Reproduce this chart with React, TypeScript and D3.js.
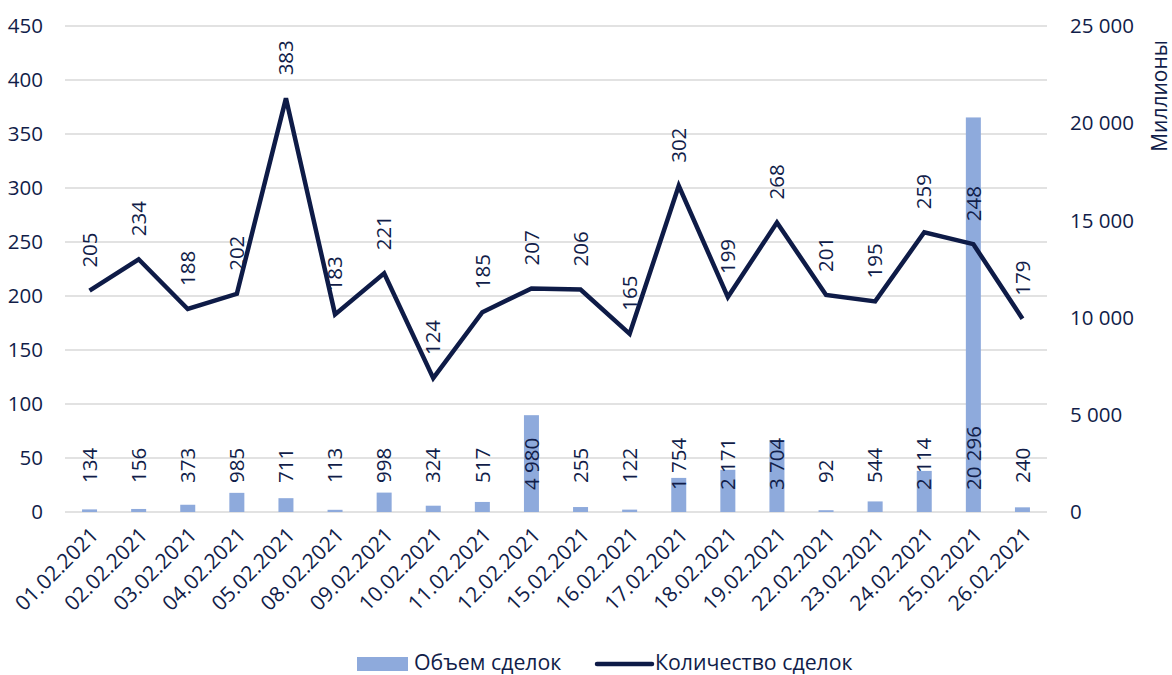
import React from "react";
import * as d3 from "d3";

const dates = [
  "01.02.2021", "02.02.2021", "03.02.2021", "04.02.2021", "05.02.2021",
  "08.02.2021", "09.02.2021", "10.02.2021", "11.02.2021", "12.02.2021",
  "15.02.2021", "16.02.2021", "17.02.2021", "18.02.2021", "19.02.2021",
  "22.02.2021", "23.02.2021", "24.02.2021", "25.02.2021", "26.02.2021",
];
const volume = [134, 156, 373, 985, 711, 113, 998, 324, 517, 4980, 255, 122, 1754, 2171, 3704, 92, 544, 2114, 20296, 240];
const count = [205, 234, 188, 202, 383, 183, 221, 124, 185, 207, 206, 165, 302, 199, 268, 201, 195, 259, 248, 179];
const leftTicks = [0, 50, 100, 150, 200, 250, 300, 350, 400, 450];
const rightTicks = [0, 5000, 10000, 15000, 20000, 25000];
const seriesNames = ["Объем сделок", "Количество сделок"];
const rightAxisTitle = "Миллионы";

const W = 1172;
const H = 675;
const plotLeft = 65;
const plotRight = 1047;
const plotTop = 26;
const plotBottom = 512;
const font = "'Open Sans', sans-serif";
const fs = 20.5;
const textColor = "#111d49";
const lineColor = "#0e1b47";
const barColor = "#8eaadc";
const gridColor = "#d9d9d9";

const fmt = (v: number) => {
  const s = String(v);
  return s.replace(/\B(?=(\d{3})+(?!\d))/g, " ");
};

export default function App() {
  const x = d3.scaleBand<string>().domain(dates).range([plotLeft, plotRight]).paddingInner(0).paddingOuter(0);
  const yL = d3.scaleLinear().domain([0, 450]).range([plotBottom, plotTop]);
  const yR = d3.scaleLinear().domain([0, 25000]).range([plotBottom, plotTop]);
  const cx = (d: string) => (x(d) as number) + x.bandwidth() / 2;
  const barW = 15;
  const line = d3
    .line<number>()
    .x((_, i) => cx(dates[i]))
    .y((v) => yL(v));

  return (
    <svg width={W} height={H} style={{ position: "absolute", left: 0, top: 0, background: "#fff" }} fontFamily={font}>
      {leftTicks.map((t) => (
        <line key={"g" + t} x1={plotLeft} x2={plotRight} y1={yL(t)} y2={yL(t)} stroke={gridColor} strokeWidth={1.5} />
      ))}
      {leftTicks.map((t) => (
        <text key={"l" + t} x={43} y={yL(t)} dy="0.35em" textAnchor="end" fontSize={fs} fill={textColor}>
          {t}
        </text>
      ))}
      {rightTicks.map((t) => (
        <text key={"r" + t} x={1070} y={yR(t)} dy="0.35em" textAnchor="start" fontSize={fs} fill={textColor}>
          {fmt(t)}
        </text>
      ))}
      <text
        transform={`translate(1167,96) rotate(-90)`}
        textAnchor="middle"
        fontSize={fs + 0.5}
        fill={textColor}
      >
        {rightAxisTitle}
      </text>
      {volume.map((v, i) => (
        <rect
          key={"b" + i}
          x={cx(dates[i]) - barW / 2}
          y={yR(v)}
          width={barW}
          height={plotBottom - yR(v)}
          fill={barColor}
        />
      ))}
      {volume.map((v, i) => {
        const label = fmt(v);
        const yb = label.length > 3 ? 490 : 483;
        return (
          <text
            key={"bl" + i}
            transform={`translate(${cx(dates[i])},${yb}) rotate(-90)`}
            dy="0.35em"
            textAnchor="start"
            fontSize={fs}
            fill={textColor}
          >
            {label}
          </text>
        );
      })}
      <path d={line(count) || ""} fill="none" stroke={lineColor} strokeWidth={4.5} strokeLinejoin="miter" />
      {count.map((v, i) => (
        <text
          key={"ll" + i}
          transform={`translate(${cx(dates[i])},${yL(v) - 23}) rotate(-90)`}
          dy="0.35em"
          textAnchor="start"
          fontSize={fs}
          fill={textColor}
        >
          {v}
        </text>
      ))}
      {dates.map((d) => (
        <text
          key={"d" + d}
          transform={`translate(${cx(d) + 5},${531}) rotate(-45)`}
          dy="0.35em"
          textAnchor="end"
          fontSize={fs + 0.5}
          fill={textColor}
        >
          {d}
        </text>
      ))}
      <rect x={357} y={657} width={51} height={14} fill={barColor} />
      <text x={414} y={670} fontSize={fs + 0.8} fill={textColor}>
        {seriesNames[0]}
      </text>
      <line x1={597} x2={652} y1={664} y2={664} stroke={lineColor} strokeWidth={4.5} strokeLinecap="round" />
      <text x={655} y={670} fontSize={fs + 0.8} fill={textColor}>
        {seriesNames[1]}
      </text>
    </svg>
  );
}
